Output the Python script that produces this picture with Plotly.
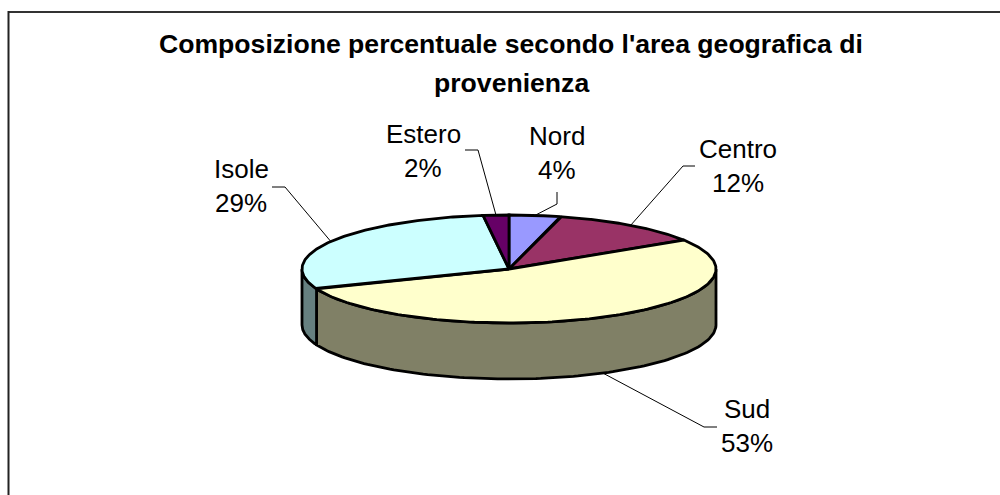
import numpy as np
import plotly.graph_objects as go

categories = ["Nord", "Centro", "Sud", "Isole", "Estero"]
values = [4, 12, 53, 29, 2]
title_lines = ["Composizione percentuale secondo l'area geografica di", "provenienza"]

top_colors = ["#9999FF", "#993366", "#FFFFCC", "#CCFFFF", "#660066"]
side_colors = ["#4D4D80", "#4D1A33", "#808066", "#668080", "#330033"]

CX, CY, RX, RY, DEPTH = 509, 269, 207, 54, 56
EDGE = dict(color="black", width=2.8)


def rim(deg, drop=0.0):
    t = np.radians(deg)
    return CX + RX * np.sin(t), CY - RY * np.cos(t) + drop


fig = go.Figure()
bounds = np.concatenate([[0], np.cumsum(values)]) * 3.6

# side wall, only the part of each slice that faces the viewer
for i, cat in enumerate(categories):
    a, b = max(bounds[i], 90), min(bounds[i + 1], 270)
    if b <= a:
        continue
    ts = np.linspace(a, b, 120)
    xt, yt = rim(ts)
    xb, yb = rim(ts[::-1], DEPTH)
    fig.add_trace(go.Scatter(x=np.r_[xt, xb, xt[0]], y=np.r_[yt, yb, yt[0]], mode="lines",
                             fill="toself", fillcolor=side_colors[i], line=EDGE,
                             hoverinfo="skip", showlegend=False))

# top face
for i, cat in enumerate(categories):
    ts = np.linspace(bounds[i], bounds[i + 1], 160)
    xt, yt = rim(ts)
    fig.add_trace(go.Scatter(x=np.r_[CX, xt, CX], y=np.r_[CY, yt, CY], mode="lines",
                             fill="toself", fillcolor=top_colors[i], line=EDGE,
                             name=cat, text=f"{cat} {values[i]}%", hoverinfo="text", showlegend=False))

mids = (bounds[:-1] + bounds[1:]) / 2
label_at = {"Nord": (557, 136), "Centro": (738, 149), "Sud": (747, 409), "Isole": (241, 169), "Estero": (423, 134)}
elbows = {
    "Nord": [(557, 192), (557, 204)],
    "Centro": [(695, 166), (683, 166)],
    "Sud": [(717, 427), (704, 427)],
    "Isole": [(272, 187), (285, 187)],
    "Estero": [(465, 150), (478, 150)],
}
LINE_GAP = 33.5
annotations = []
shapes = []
for i, cat in enumerate(categories):
    lx, ly = label_at[cat]
    for k, txt in enumerate([cat, f"{values[i]}%"]):
        annotations.append(dict(x=lx, y=ly + k * LINE_GAP, text=txt, xref="x", yref="y", showarrow=False,
                                xanchor="center", yanchor="middle",
                                font=dict(family="Liberation Sans, Arial, sans-serif", size=26, color="black")))
    drop = DEPTH if 90 < mids[i] < 270 else 0
    ex, ey = rim(mids[i], drop)
    p = elbows[cat] + [(float(ex), float(ey))]
    for (x0, y0), (x1, y1) in zip(p[:-1], p[1:]):
        shapes.append(dict(type="line", xref="x", yref="y", x0=x0, y0=y0, x1=x1, y1=y1,
                           line=dict(color="black", width=1)))

for y, txt in zip((44, 83), title_lines):
    annotations.append(dict(x=511, y=y, text=f"<b>{txt}</b>", xref="x", yref="y", showarrow=False,
                            xanchor="center", yanchor="middle",
                            font=dict(family="Liberation Sans, Arial, sans-serif", size=26.6, color="black")))

# chart frame: top and left edges only
shapes.append(dict(type="line", xref="x", yref="y", x0=8, y0=12, x1=1000, y1=12, line=dict(color="#333333", width=2)))
shapes.append(dict(type="line", xref="x", yref="y", x0=8.5, y0=11, x1=8.5, y1=495, line=dict(color="#222222", width=2)))

fig.update_layout(
    width=1000, height=495, margin=dict(l=0, r=0, t=0, b=0),
    paper_bgcolor="white", plot_bgcolor="white",
    xaxis=dict(range=[0, 1000], visible=False, fixedrange=True),
    yaxis=dict(range=[495, 0], visible=False, fixedrange=True),
    annotations=annotations, shapes=shapes, showlegend=False,
)
fig.write_html("out.html", config=dict(displayModeBar=False),
               post_script="document.body.style.margin='0';document.body.style.overflow='hidden';")
